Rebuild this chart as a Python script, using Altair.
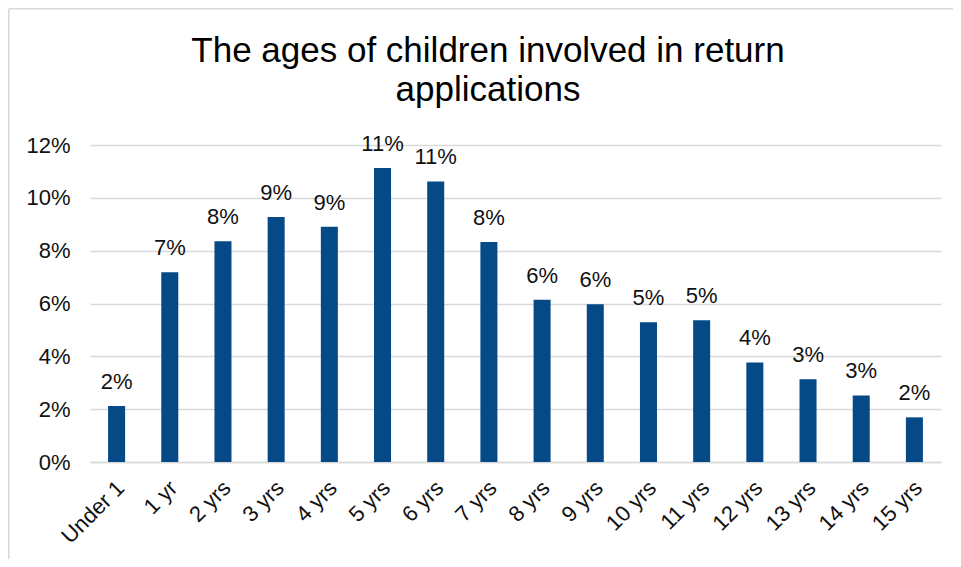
import altair as alt
import pandas as pd

ages = ["Under 1", "1 yr", "2 yrs", "3 yrs", "4 yrs", "5 yrs", "6 yrs", "7 yrs",
        "8 yrs", "9 yrs", "10 yrs", "11 yrs", "12 yrs", "13 yrs", "14 yrs", "15 yrs"]
percent = [2.12, 7.18, 8.36, 9.27, 8.91, 11.13, 10.62, 8.33,
           6.14, 5.97, 5.29, 5.37, 3.77, 3.13, 2.52, 1.69]
y_ticks = [0, 0.02, 0.04, 0.06, 0.08, 0.10, 0.12]
title_lines = ["The ages of children involved in return", "applications"]

df = pd.DataFrame({"age": ages, "share": [p / 100 for p in percent]})

FONT = "Liberation Sans"
BAR = "#054a87"
GRID = "#d9d9d9"

base = alt.Chart(df)

x = alt.X("age:N", sort=ages, title=None,
          scale=alt.Scale(paddingInner=0.68, paddingOuter=0.34),
          axis=alt.Axis(labelAngle=-45, labelFontSize=22, labelFont=FONT,
                        labelColor="#111111", ticks=False, domainColor=GRID,
                        domainWidth=1.5, labelPadding=15, labelOffset=-3))
y = alt.Y("share:Q", title=None,
          scale=alt.Scale(domain=[0, 0.12], nice=False),
          axis=alt.Axis(values=y_ticks, format=".0%", labelFontSize=22, labelFont=FONT,
                        labelColor="#111111", ticks=False, domain=False,
                        gridColor=GRID, gridWidth=1.5, labelPadding=20))

bars = base.mark_bar(color=BAR).encode(x=x, y=y)
labels = base.mark_text(fontSize=22, font=FONT, color="#111111", dy=-17,
                        baseline="alphabetic").encode(
    x=alt.X("age:N", sort=ages), y="share:Q", text=alt.Text("share:Q", format=".0%"))

one = pd.DataFrame({"k": [0]})
frame_left = alt.Chart(one).mark_rule(color=GRID, strokeWidth=1.5).encode(
    x=alt.value(-81.2), y=alt.value(-136.2), y2=alt.value(600))
frame_top = alt.Chart(one).mark_rule(color=GRID, strokeWidth=1.5).encode(
    x=alt.value(-81.2), x2=alt.value(1000), y=alt.value(-136.2))

title1 = alt.Chart(one).mark_text(fontSize=35, font=FONT, color="#000000",
                                  align="center", baseline="alphabetic").encode(
    x=alt.value(398), y=alt.value(-83), text=alt.value(title_lines[0]))
title2 = alt.Chart(one).mark_text(fontSize=35, font=FONT, color="#000000",
                                  align="center", baseline="alphabetic").encode(
    x=alt.value(398), y=alt.value(-44), text=alt.value(title_lines[1]))

chart = alt.layer(frame_left, frame_top, title1, title2, bars, labels).properties(
    width=851, height=317,
    autosize=alt.AutoSizeParams(type="none"),
    padding={"left": 82, "top": 137, "right": 12, "bottom": 97},
).configure_view(stroke=None)

chart.save("out.html", embed_options={"renderer": "svg", "actions": False})
